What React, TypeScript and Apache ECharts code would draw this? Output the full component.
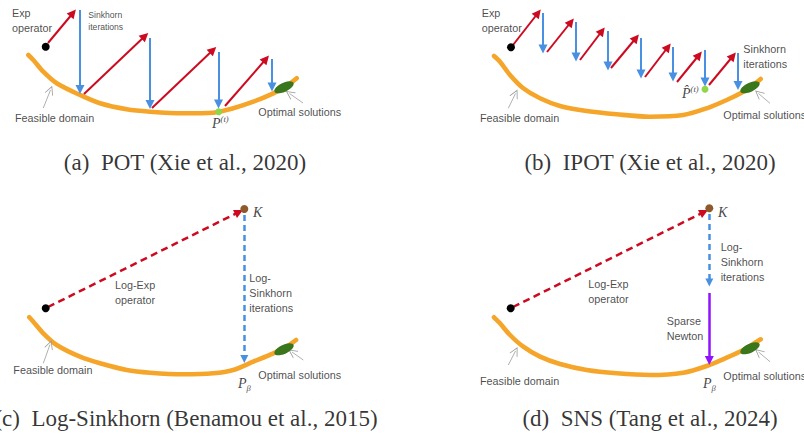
import React, { useEffect, useRef } from 'react';
import * as echarts from 'echarts';

// Feasible-domain curves (x, y in picture pixels)
const curveA = [[28.3,55],[33.3,60],[43.3,71.7],[56.7,83.3],[80,95],[100,103.3],[126.7,109.3],[150,111.7],[183.3,113.3],[213.3,112.7],[233.3,108.3],[253.3,101.7],[273.3,93.3],[286.7,86],[296.7,78.3]];
const curveB = [[494,56],[500,61.7],[510,75],[523.3,88.3],[540,98.3],[560,106],[586.7,111],[616.7,114.3],[650,116.7],[683.3,115],[706.7,108.3],[726.7,100],[743.3,91.7],[753.3,85],[760.7,79]];
const curveC = [[29.3,317.3],[33.3,321.7],[43.3,333.3],[56.7,345],[80,356.7],[100,363.3],[126.7,370],[150,372.7],[183.3,374.3],[213.3,373.3],[233.3,370],[253.3,361.7],[273.3,353.3],[286.7,346.7],[296,340]];
const curveD = [[494,317.3],[500,323.3],[510,335],[523.3,346.7],[540,356.7],[560,364],[586.7,370],[616.7,373.3],[650,375],[683.3,372.7],[706.7,366],[726.7,357.7],[743.3,350],[753.3,344],[760.7,339.3]];

// Exp operator steps (red) and Sinkhorn steps (blue)
const redArrows = [
  [[48,43],[73,13]], [[84,94],[145,36]], [[152,108],[213,50]], [[225,106],[266,59]],
  [[513,45],[538,13]], [[547,52],[571,22]], [[580,60],[602,31]], [[611,68],[636,38]],
  [[645,77],[668,47]], [[677,82],[699,55]], [[709,85],[733,56]],
];
const blueArrows = [
  [[80,10],[80,89.5]], [[150,38],[150,104.5]], [[218.5,52],[218.5,104]], [[272,59],[272,87]],
  [[543,13],[543,49]], [[576,22],[576,57]], [[608,31],[608,66]], [[641,38],[641,74]],
  [[673,47],[673,77]], [[705,50],[705,82]], [[738,53],[738,85.5]],
];
const redDashed = [[[48,307],[239,212]], [[513,307],[704,212]]];
const blueDashed = [[[244.3,215],[244.3,359]], [[709.3,214],[709.3,282.5]]];
const purpleArrows = [[[709.3,293],[709.3,360.5]]];
const pointers = [
  [[43.3,108],[50.5,90]], [[303,103],[289.5,93.5]],
  [[508.3,108.3],[515.5,93.5]], [[770,103.3],[758.5,93.5]],
  [[43.3,363.3],[50,344.5]], [[303.3,360],[292,352]],
  [[508.3,365],[515.5,351]], [[770,361.7],[758.5,352]],
];

// Points
const blackDots = [[45.7,46.7],[511,47.3],[45.7,308.3],[510.7,308.3]];
const greenDots = [[218.7,111.7],[705,89.3]];
const brownDots = [[244.3,209],[709.3,208.3]];
const optimaEllipses = [[284,87.3],[750,87.3],[284,349.3],[750,348.3]];

// Texts: [x, y, text]
const labels: [number, number, string][] = [
  [12,20.8,'Exp\noperator'],
  [15,118.3,'Feasible domain'],
  [258.3,112.3,'Optimal solutions'],
  [481.7,20.8,'Exp\noperator'],
  [743.3,56.7,'Sinkhorn\niterations'],
  [480,118.3,'Feasible domain'],
  [723.3,115,'Optimal solutions'],
  [115,292.7,'Log-Exp\noperator'],
  [249.3,292.7,'Log-\nSinkhorn\niterations'],
  [13.3,370,'Feasible domain'],
  [258.3,375,'Optimal solutions'],
  [588.3,291.7,'Log-Exp\noperator'],
  [720.7,261.7,'Log-\nSinkhorn\niterations'],
  [666.7,328.8,'Sparse\nNewton'],
  [480,380.7,'Feasible domain'],
  [723.3,375.7,'Optimal solutions'],
];
const smallLabels: [number, number, string][] = [[88.3,20.8,'Sinkhorn\niterations']];
const mathLabels: [number, number, string][] = [
  [212,123.5,'{p|P}{s|(t)}'],
  [682,93,'{p|P\u0302}{s|(t)}'],
  [238,383,'{p|P}{b|β}'],
  [703,383,'{p|P}{b|β}'],
  [253,212.5,'{p|K}'],
  [718,212.5,'{p|K}'],
];
const captions: [number, number, string][] = [
  [185,162.5,'(a)\u2002POT (Xie et al., 2020)'],
  [650,162.5,'(b)\u2002IPOT (Xie et al., 2020)'],
  [186,418.5,'(c)\u2002Log-Sinkhorn (Benamou et al., 2015)'],
  [650,418.5,'(d)\u2002SNS (Tang et al., 2024)'],
];

const ORANGE = '#f5a62a';
const RED = '#cc0a20';
const BLUE = '#4a90e2';
const PURPLE = '#9013fe';

const V_HEAD = 'path://M5,0L10,12L9,12L5,2.5L1,12L0,12Z';

function curveSeries(data: number[][]) {
  return {
    type: 'line', data, smooth: 0.3, showSymbol: false, symbol: 'none', silent: true, z: 2,
    lineStyle: { color: ORANGE, width: 4.6, cap: 'round', join: 'round' },
  };
}
function linesSeries(data: number[][][], color: string, width: number, type: any, symbol: string, size: any, z = 4) {
  return {
    type: 'lines', coordinateSystem: 'cartesian2d', silent: true, z,
    symbol: ['none', symbol], symbolSize: size,
    lineStyle: { color, width, opacity: 1, type, curveness: 0 },
    data: data.map((c) => ({ coords: c })),
  };
}
function dotSeries(data: number[][], color: string, size: any, rotate = 0) {
  return {
    type: 'scatter', data, symbol: 'circle', symbolSize: size, symbolRotate: rotate, silent: true, z: 5,
    itemStyle: { color, opacity: 1 },
  };
}
function textSeries(data: [number, number, string][], label: any) {
  return {
    type: 'scatter', symbolSize: 0, silent: true, z: 6,
    data: data.map((d) => ({ value: [d[0], d[1]], name: d[2] })),
    label: { show: true, position: 'inside', formatter: '{b}', ...label },
  };
}

export default function App() {
  const ref = useRef<HTMLDivElement>(null);
  useEffect(() => {
    document.body.style.margin = '0';
    const chart = echarts.init(ref.current!, null, { renderer: 'svg' });
    const sans = 'Liberation Sans, Arial, sans-serif';
    const serif = 'Liberation Serif, Times New Roman, serif';
    chart.setOption({
      animation: false,
      backgroundColor: '#ffffff',
      grid: { left: 0, right: 0, top: 0, bottom: 0, containLabel: false },
      xAxis: { type: 'value', min: 0, max: 804, show: false },
      yAxis: { type: 'value', min: 0, max: 445, inverse: true, show: false },
      series: [
        curveSeries(curveA), curveSeries(curveB), curveSeries(curveC), curveSeries(curveD),
        linesSeries(redArrows, RED, 2, 'solid', 'triangle', [8, 9]),
        linesSeries(blueArrows, BLUE, 2, 'solid', 'triangle', [8, 9]),
        linesSeries(redDashed, RED, 2.5, [7, 4.5], 'triangle', [9, 9]),
        linesSeries(blueDashed, BLUE, 2.5, [6, 4], 'triangle', [8, 8]),
        linesSeries(purpleArrows, PURPLE, 2.5, 'solid', 'triangle', [8, 9]),
        linesSeries(pointers, '#9c9c9c', 0.8, 'solid', V_HEAD, [7, 9], 3),
        dotSeries(optimaEllipses, '#3a761b', [21, 9], 25),
        dotSeries(blackDots, '#000000', 8),
        dotSeries(greenDots, '#8fd64a', 7),
        dotSeries(brownDots, '#8e5a2c', 8),
        textSeries(labels, { fontFamily: sans, fontSize: 10.8, color: '#1a1a1a', align: 'left', verticalAlign: 'middle', lineHeight: 15 }),
        textSeries(smallLabels, { fontFamily: sans, fontSize: 8.6, color: '#1a1a1a', align: 'left', verticalAlign: 'middle', lineHeight: 11.5 }),
        textSeries(captions, { fontFamily: serif, fontSize: 23, color: '#000000', align: 'center', verticalAlign: 'middle' }),
        {
          type: 'scatter', symbolSize: 0, silent: true, z: 6,
          data: mathLabels.map((d) => ({ value: [d[0], d[1]], name: d[2] })),
          label: {
            show: true, position: 'inside', formatter: '{b}', align: 'left', verticalAlign: 'middle',
            rich: {
              p: { fontFamily: serif, fontStyle: 'italic', fontSize: 14, color: '#111', lineHeight: 18, verticalAlign: 'middle' },
              s: { fontFamily: serif, fontStyle: 'italic', fontSize: 8.5, color: '#111', lineHeight: 10, verticalAlign: 'top' },
              b: { fontFamily: serif, fontStyle: 'italic', fontSize: 8.5, color: '#111', lineHeight: 10, verticalAlign: 'bottom' },
            },
          },
        },
      ],
    });
    return () => chart.dispose();
  }, []);
  return <div ref={ref} style={{ width: 804, height: 445 }} />;
}
